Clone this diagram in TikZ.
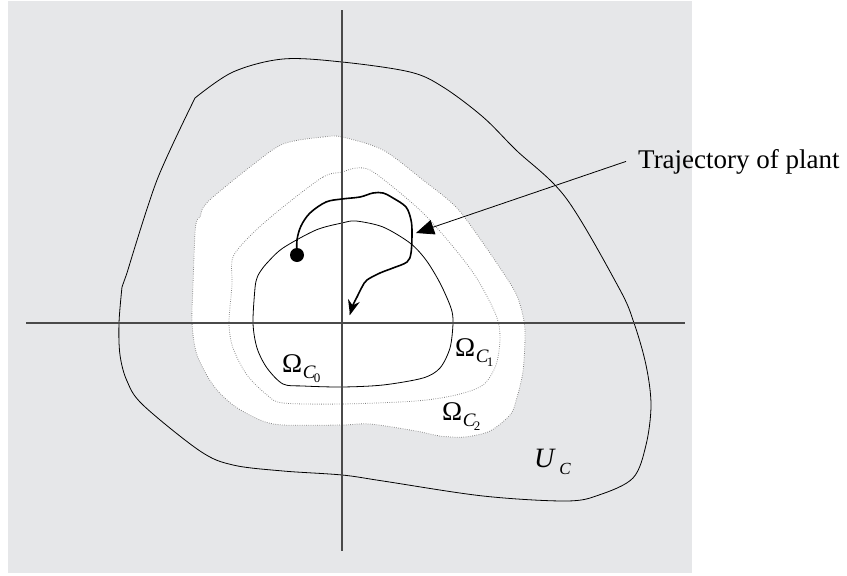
\documentclass[tikz,border=0pt]{standalone}
\usepackage{fontspec}
\setmainfont{Liberation Serif}
\usepackage{tikz}
\usetikzlibrary{arrows.meta,positioning}
\definecolor{stabBack}{HTML}{E6E7E9}
\definecolor{stabAxis}{HTML}{4A4A4A}
\definecolor{stabDots}{HTML}{808080}
\newcommand{\omegaset}[1]{{\fontsize{27}{27}\selectfont Ω}\kern0.5pt\raisebox{-6pt}{\fontsize{19}{19}\selectfont\itshape C\kern-1.5pt\raisebox{-4pt}{\fontsize{13}{13}\selectfont\upshape #1}}}

\begin{document}
\begin{tikzpicture}[x=1pt,y=-1pt, every node/.style={inner sep=0pt},
    levelline/.style={line width=0.8pt, black},
    leveldots/.style={line width=0.8pt, draw=stabDots, dash pattern=on 0.7pt off 1.5pt},
    axisline/.style={line width=1.1pt, stabAxis}]
  \useasboundingbox (0,0) rectangle (847,576);
  \fill[stabBack] (8,1) rectangle (692,573);

  % largest estimate, white inside
  \path[leveldots, fill=white] plot[smooth cycle, tension=0.5] coordinates {(283,144) (323,137) (342,137) (383,150) (423,180) (456,207) (483,243) (513,288) (521,308) (525,331) (523,371) (516,401) (510,415) (490,431) (465,437) (440,436) (416,431) (370,424) (342,425) (283,425) (260,420) (233,405) (213,385) (197,355) (192,323) (193,285) (195,233) (197,220) (200,217) (203,208) (213,197) (250,167)};
  \path[leveldots] plot[smooth cycle, tension=0.5] coordinates {(283,207) (323,177) (342,172) (356,168) (370,170) (393,187) (423,213) (450,243) (476,277) (496,315) (500,338) (496,365) (483,385) (456,395) (416,401) (342,404) (283,403) (267,395) (247,375) (233,348) (229,323) (232,285) (233,257) (253,233)};
  \draw[levelline] plot[smooth cycle, tension=0.5] coordinates {(283,248) (316,230) (342,223) (356,221) (383,227) (410,243) (426,260) (440,283) (451,308) (453,323) (450,348) (440,368) (423,378) (383,385) (342,387) (303,386) (283,384) (267,368) (257,348) (253,323) (255,288) (257,278) (260,272) (267,263)};
  % U_C
  \draw[levelline] plot[smooth, tension=0.55] coordinates {(195,98) (233,72) (283,59) (342,62) (410,72) (443,87) (483,117) (516,150) (566,198) (619,288) (634,323) (646,365) (651,405) (646,445) (633,478) (599,495) (566,501) (483,496) (383,481) (342,475) (283,471) (233,465) (200,451) (143,405) (127,381) (120,355) (119,323) (122,287)}
    -- plot[smooth] coordinates {(127,273) (157,180) (195,98)} -- cycle;

  % axes
  \coordinate (xleft) at (26,323);
  \coordinate (xright) at (685,323);
  \coordinate (ytop) at (342,10);
  \coordinate (ybottom) at (342,551);
  \draw[axisline] (xleft) -- (xright);
  \draw[axisline] (ytop) -- (ybottom);

  % trajectory
  \node[circle, fill=black, minimum size=14pt] (start) at (297,255) {};
  \draw[line width=1.6pt, -{Stealth[length=15pt,width=12pt,inset=5pt]}] plot[smooth, tension=0.55] coordinates {(start.center) (297,240) (301,226) (310,213) (326,202) (342,199) (360,197) (373,193) (383,193) (393,198) (406,207) (411,220) (412,233) (411,253) (407,262) (393,268) (380,273) (367,280) (362,287) (357,297) (353,305) (350,315)};

  \node[anchor=base west, inner xsep=12pt, font=\fontsize{27}{30}\selectfont] (trajlabel) at (626,168) {Trajectory of plant};
  \coordinate (trajtip) at (416,233);
  \draw[line width=0.8pt, -{Triangle[length=18pt,width=15pt]}] (trajlabel.west) -- (trajtip);

  \node[anchor=base west] (omega0) at (282,372) {\omegaset{0}};
  \node[anchor=base west] (omega1) at (455,356) {\omegaset{1}};
  \node[anchor=base west] (omega2) at (442,420) {\omegaset{2}};
  \node[anchor=base west] (uc) at (534,467) {{\fontsize{28}{28}\selectfont\itshape U}\kern5pt\raisebox{-7pt}{\fontsize{17}{17}\selectfont\itshape C}};
\end{tikzpicture}
\end{document}
